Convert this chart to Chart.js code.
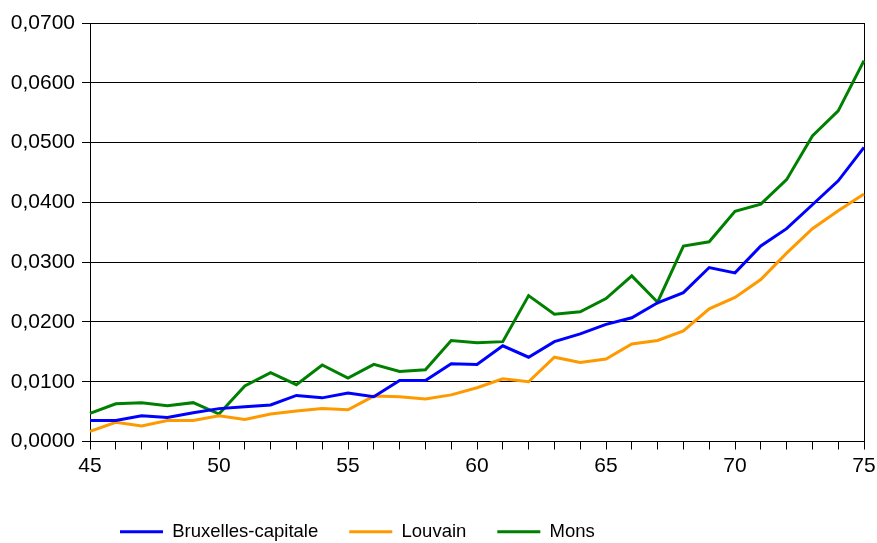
<!DOCTYPE html>
<html>
<head>
<meta charset="utf-8">
<script src="https://cdn.jsdelivr.net/npm/chart.js@4.4.0/dist/chart.umd.min.js"></script>
<style>
  body { margin: 0; background: #fff; }
  #chartBox { width: 877px; height: 543px; position: relative; }
</style>
</head>
<body>
<div id="chartBox"><canvas id="myChart"></canvas></div>
<script>
// ages on the x axis
const ages = [45, 46, 47, 48, 49, 50, 51, 52, 53, 54, 55, 56, 57, 58, 59, 60,
  61, 62, 63, 64, 65, 66, 67, 68, 69, 70, 71, 72, 73, 74, 75];

const seriesNames = ["Bruxelles-capitale", "Louvain", "Mons"];
const seriesColors = ["#0000ff", "#ff9900", "#008000"];

const bruxelles = [0.0035, 0.0035, 0.0043, 0.0040, 0.0048, 0.0055, 0.0058, 0.0061,
  0.0077, 0.0073, 0.0081, 0.0075, 0.0102, 0.0102, 0.0130, 0.0129, 0.0160, 0.0141,
  0.0167, 0.0180, 0.0196, 0.0207, 0.0232, 0.0249, 0.0291, 0.0282, 0.0327, 0.0356,
  0.0396, 0.0436, 0.0492];
const louvain = [0.0017, 0.0032, 0.0026, 0.0035, 0.0035, 0.0043, 0.0037, 0.0046,
  0.0051, 0.0055, 0.0053, 0.0076, 0.0075, 0.0071, 0.0078, 0.0090, 0.0105, 0.0100,
  0.0141, 0.0132, 0.0138, 0.0163, 0.0169, 0.0185, 0.0222, 0.0241, 0.0271, 0.0315,
  0.0356, 0.0386, 0.0414];
const mons = [0.0047, 0.0063, 0.0065, 0.0060, 0.0065, 0.0046, 0.0093, 0.0115,
  0.0095, 0.0128, 0.0106, 0.0129, 0.0117, 0.0120, 0.0169, 0.0165, 0.0167, 0.0244,
  0.0213, 0.0217, 0.0239, 0.0277, 0.0233, 0.0327, 0.0334, 0.0385, 0.0397, 0.0438,
  0.0511, 0.0553, 0.0637];

// y axis range / steps
const yMin = 0;
const yMax = 0.07;
const yStep = 0.01;

const fontFamily = "'Liberation Sans', Arial, Helvetica, sans-serif";

// moves the legend a bit to the left like in the original
const legendShift = {
  id: "legendShift",
  afterLayout: (chart) => {
    if (chart.legend) chart.legend.left = 89;
  },
};

const ctx = document.getElementById("myChart");

const chart = new Chart(ctx, {
  type: "line",
  data: {
    labels: ages,
    datasets: [bruxelles, louvain, mons].map((values, i) => ({
      label: seriesNames[i],
      data: values,
      borderColor: seriesColors[i],
      backgroundColor: seriesColors[i],
      borderWidth: 3,
      pointRadius: 0,
      tension: 0,
      fill: false,
    })),
  },
  options: {
    responsive: true,
    maintainAspectRatio: false,
    animation: false,
    layout: { padding: { top: 23, right: 13, bottom: -8, left: 0 } },
    scales: {
      x: {
        offset: false,
        grid: {
          color: (c) => (c.index === ages.length - 1 ? "#000" : "transparent"),
          tickColor: "#000",
          tickLength: 8,
        },
        border: { color: "#000", width: 1 },
        ticks: {
          autoSkip: false,
          maxRotation: 0,
          padding: 4,
          color: "#000",
          font: { family: fontFamily, size: 21 },
          callback: function (value, index) {
            const age = ages[index];
            return age % 5 === 0 ? String(age) : "";
          },
        },
        afterFit: (scale) => {
          scale.height = 50;
          scale.paddingLeft = 0;
          scale.paddingRight = 0;
        },
      },
      y: {
        min: yMin,
        max: yMax,
        grid: { color: "#000", tickColor: "#000", tickLength: 8 },
        border: { color: "#000", width: 1 },
        ticks: {
          stepSize: yStep,
          padding: 7,
          color: "#000",
          font: { family: fontFamily, size: 21 },
          callback: (v) => v.toFixed(4).replace(".", ","),
        },
        afterFit: (scale) => {
          scale.width = 90;
        },
      },
    },
    plugins: {
      legend: {
        position: "bottom",
        align: "start",
        labels: {
          usePointStyle: true,
          pointStyle: "line",
          pointStyleWidth: 43,
          padding: 31,
          color: "#000",
          font: { family: fontFamily, size: 18.5 },
        },
      },
      tooltip: { enabled: false },
    },
  },
  plugins: [legendShift],
});
</script>
</body>
</html>
